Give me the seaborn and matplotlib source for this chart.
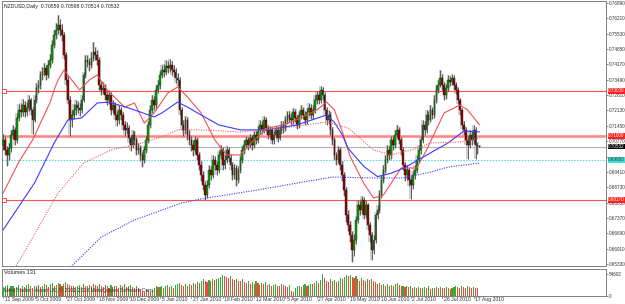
import numpy as np
import pandas as pd
import matplotlib
matplotlib.use("Agg")
import matplotlib.pyplot as plt
import matplotlib.transforms as mtransforms
from matplotlib import font_manager
import seaborn as sns

sns.set_style("white")
_names = {f.name for f in font_manager.fontManager.ttflist}
FONT = [f for f in ["Liberation Sans Narrow", "Liberation Sans", "DejaVu Sans"] if f in _names]
plt.rcParams['font.family'] = FONT
NARROW = "Liberation Sans Narrow" in _names
FS = 3.9 if NARROW else 3.3
FS_TXT = 4.3 if NARROW else 3.7

# ---------------- data ----------------
date_labels = ["11 Sep 2009", "5 Oct 2009", "27 Oct 2009", "18 Nov 2009", "10 Dec 2009",
               "5 Jan 2010", "27 Jan 2010", "18 Feb 2010", "12 Mar 2010", "5 Apr 2010",
               "27 Apr 2010", "19 May 2010", "10 Jun 2010", "2 Jul 2010", "26 Jul 2010",
               "17 Aug 2010"]
date_label_bars = [0, 16, 32, 48, 64, 80, 96, 112, 128, 144, 160, 176, 192, 208, 224, 240]

first_open = 0.7060
close = [0.7082, 0.7038, 0.7016, 0.7047, 0.7104, 0.7127, 0.7082, 0.7180, 0.7215, 0.7206, 0.7237, 0.7206, 0.7224, 0.7259, 0.7215, 0.7171,
         0.7259, 0.7312, 0.7326, 0.7370, 0.7383, 0.7401, 0.7370, 0.7414, 0.7437, 0.7503, 0.7547, 0.7569, 0.7592, 0.7569, 0.7547, 0.7459,
         0.7348, 0.7259, 0.7171, 0.7193, 0.7215, 0.7237, 0.7224, 0.7215, 0.7259, 0.7370, 0.7437, 0.7428, 0.7414, 0.7445, 0.7472, 0.7459,
         0.7437, 0.7326, 0.7304, 0.7312, 0.7281, 0.7259, 0.7281, 0.7215, 0.7237, 0.7193, 0.7171, 0.7215, 0.7193, 0.7149, 0.7127, 0.7135,
         0.7091, 0.7060, 0.7104, 0.7082, 0.7038, 0.7047, 0.7016, 0.6994, 0.7038, 0.7082, 0.7149, 0.7215, 0.7259, 0.7237, 0.7304, 0.7326,
         0.7370, 0.7392, 0.7383, 0.7410, 0.7401, 0.7414, 0.7392, 0.7383, 0.7357, 0.7348, 0.7215, 0.7149, 0.7127, 0.7171, 0.7104, 0.7082,
         0.7060, 0.7038, 0.7082, 0.7016, 0.6971, 0.6927, 0.6883, 0.6839, 0.6883, 0.6949, 0.6927, 0.6994, 0.6971, 0.6949, 0.7016, 0.7038,
         0.6971, 0.6994, 0.7038, 0.7002, 0.6971, 0.6927, 0.6958, 0.6905, 0.6949, 0.6994, 0.7038, 0.7060, 0.7082, 0.7060, 0.7091, 0.7060,
         0.7104, 0.7082, 0.7127, 0.7149, 0.7127, 0.7171, 0.7135, 0.7104, 0.7127, 0.7082, 0.7104, 0.7127, 0.7091, 0.7127, 0.7149, 0.7135,
         0.7171, 0.7193, 0.7180, 0.7171, 0.7206, 0.7180, 0.7149, 0.7193, 0.7215, 0.7193, 0.7171, 0.7206, 0.7224, 0.7193, 0.7215, 0.7259,
         0.7281, 0.7259, 0.7304, 0.7281, 0.7215, 0.7171, 0.7193, 0.7127, 0.7082, 0.7016, 0.6994, 0.7038, 0.6971, 0.6927, 0.6861, 0.6750,
         0.6706, 0.6661, 0.6595, 0.6639, 0.6728, 0.6794, 0.6772, 0.6816, 0.6750, 0.6794, 0.6706, 0.6661, 0.6595, 0.6639, 0.6750, 0.6772,
         0.6839, 0.6905, 0.6949, 0.6994, 0.7038, 0.7016, 0.7082, 0.7060, 0.7104, 0.7127, 0.7082, 0.7038, 0.6971, 0.6927, 0.6949, 0.6905,
         0.6883, 0.6927, 0.6949, 0.6994, 0.7038, 0.7082, 0.7149, 0.7127, 0.7193, 0.7171, 0.7215, 0.7193, 0.7259, 0.7304, 0.7326, 0.7357,
         0.7326, 0.7281, 0.7312, 0.7348, 0.7339, 0.7357, 0.7326, 0.7304, 0.7259, 0.7215, 0.7149, 0.7127, 0.7082, 0.7060, 0.7104, 0.7082,
         0.7127, 0.7060, 0.70559, 0.70532]

high = [0.7110, 0.7098, 0.7055, 0.7070, 0.7125, 0.7150, 0.7140, 0.7200, 0.7240, 0.7245, 0.7262, 0.7255, 0.7250, 0.7280, 0.7270, 0.7230,
        0.7280, 0.7335, 0.7350, 0.7390, 0.7405, 0.7425, 0.7415, 0.7435, 0.7465, 0.7525, 0.7570, 0.7600, 0.7636, 0.7620, 0.7595, 0.7560,
        0.7470, 0.7365, 0.7275, 0.7215, 0.7240, 0.7260, 0.7255, 0.7245, 0.7280, 0.7385, 0.7460, 0.7460, 0.7445, 0.7470, 0.7516, 0.7495,
        0.7480, 0.7450, 0.7345, 0.7340, 0.7330, 0.7300, 0.7305, 0.7295, 0.7260, 0.7250, 0.7210, 0.7235, 0.7230, 0.7205, 0.7165, 0.7160,
        0.7150, 0.7105, 0.7125, 0.7120, 0.7095, 0.7070, 0.7060, 0.7030, 0.7055, 0.7100, 0.7165, 0.7235, 0.7280, 0.7275, 0.7325, 0.7350,
        0.7390, 0.7415, 0.7420, 0.7435, 0.7430, 0.7440, 0.7430, 0.7415, 0.7400, 0.7380, 0.7360, 0.7230, 0.7170, 0.7190, 0.7185, 0.7125,
        0.7100, 0.7080, 0.7100, 0.7095, 0.7030, 0.6990, 0.6945, 0.6900, 0.6905, 0.6970, 0.6965, 0.7015, 0.7010, 0.6990, 0.7035, 0.7060,
        0.7050, 0.7015, 0.7055, 0.7050, 0.7020, 0.6985, 0.6975, 0.6970, 0.6965, 0.7010, 0.7055, 0.7080, 0.7100, 0.7095, 0.7110, 0.7105,
        0.7120, 0.7120, 0.7145, 0.7170, 0.7165, 0.7190, 0.7185, 0.7150, 0.7145, 0.7140, 0.7120, 0.7145, 0.7140, 0.7145, 0.7165, 0.7165,
        0.7190, 0.7210, 0.7210, 0.7200, 0.7225, 0.7220, 0.7195, 0.7210, 0.7235, 0.7230, 0.7210, 0.7225, 0.7245, 0.7240, 0.7235, 0.7280,
        0.7300, 0.7300, 0.7320, 0.7315, 0.7295, 0.7230, 0.7215, 0.7205, 0.7140, 0.7095, 0.7030, 0.7055, 0.7050, 0.6990, 0.6940, 0.6875,
        0.6770, 0.6725, 0.6680, 0.6665, 0.6745, 0.6815, 0.6810, 0.6835, 0.6830, 0.6815, 0.6805, 0.6720, 0.6675, 0.6660, 0.6765, 0.6795,
        0.6860, 0.6925, 0.6970, 0.7015, 0.7060, 0.7055, 0.7100, 0.7100, 0.7125, 0.7150, 0.7140, 0.7095, 0.7050, 0.6985, 0.6970, 0.6960,
        0.6920, 0.6945, 0.6970, 0.7015, 0.7060, 0.7100, 0.7170, 0.7165, 0.7215, 0.7210, 0.7235, 0.7230, 0.7280, 0.7325, 0.7350, 0.7392,
        0.7375, 0.7340, 0.7330, 0.7370, 0.7365, 0.7375, 0.7370, 0.7340, 0.7315, 0.7270, 0.7225, 0.7165, 0.7140, 0.7100, 0.7125, 0.7120,
        0.7150, 0.7140, 0.7075, 0.70598]

low = [0.7040, 0.7015, 0.6965, 0.6995, 0.7030, 0.7085, 0.7060, 0.7070, 0.7165, 0.7185, 0.7190, 0.7185, 0.7190, 0.7210, 0.7195, 0.7110,
       0.7160, 0.7245, 0.7290, 0.7310, 0.7350, 0.7365, 0.7350, 0.7355, 0.7400, 0.7425, 0.7490, 0.7530, 0.7550, 0.7545, 0.7520, 0.7440,
       0.7325, 0.7240, 0.7100, 0.7140, 0.7175, 0.7195, 0.7200, 0.7190, 0.7200, 0.7250, 0.7355, 0.7405, 0.7390, 0.7400, 0.7430, 0.7435,
       0.7415, 0.7305, 0.7280, 0.7285, 0.7260, 0.7235, 0.7240, 0.7195, 0.7200, 0.7170, 0.7145, 0.7155, 0.7170, 0.7125, 0.7100, 0.7110,
       0.7070, 0.7035, 0.7045, 0.7060, 0.7015, 0.7020, 0.6990, 0.6963, 0.6980, 0.7025, 0.7070, 0.7135, 0.7200, 0.7215, 0.7225, 0.7290,
       0.7310, 0.7355, 0.7360, 0.7370, 0.7380, 0.7385, 0.7370, 0.7360, 0.7335, 0.7320, 0.7195, 0.7125, 0.7100, 0.7110, 0.7080, 0.7060,
       0.7035, 0.7010, 0.7020, 0.6995, 0.6950, 0.6900, 0.6860, 0.6816, 0.6825, 0.6870, 0.6905, 0.6915, 0.6950, 0.6925, 0.6935, 0.7000,
       0.6950, 0.6955, 0.6980, 0.6985, 0.6950, 0.6905, 0.6910, 0.6880, 0.6890, 0.6935, 0.6980, 0.7020, 0.7045, 0.7040, 0.7045, 0.7040,
       0.7045, 0.7065, 0.7070, 0.7110, 0.7110, 0.7115, 0.7120, 0.7085, 0.7090, 0.7065, 0.7065, 0.7090, 0.7075, 0.7080, 0.7110, 0.7115,
       0.7120, 0.7155, 0.7160, 0.7150, 0.7155, 0.7160, 0.7130, 0.7135, 0.7175, 0.7175, 0.7150, 0.7155, 0.7190, 0.7175, 0.7175, 0.7200,
       0.7240, 0.7240, 0.7245, 0.7260, 0.7195, 0.7150, 0.7155, 0.7105, 0.7060, 0.6995, 0.6970, 0.6980, 0.6950, 0.6900, 0.6835, 0.6720,
       0.6680, 0.6630, 0.6542, 0.6570, 0.6620, 0.6715, 0.6750, 0.6755, 0.6730, 0.6735, 0.6685, 0.6630, 0.6551, 0.6575, 0.6625, 0.6730,
       0.6760, 0.6825, 0.6890, 0.6935, 0.6980, 0.6995, 0.7000, 0.7040, 0.7045, 0.7090, 0.7065, 0.7015, 0.6950, 0.6900, 0.6905, 0.6880,
       0.6820, 0.6865, 0.6910, 0.6935, 0.6980, 0.7020, 0.7070, 0.7105, 0.7115, 0.7150, 0.7160, 0.7175, 0.7180, 0.7245, 0.7290, 0.7315,
       0.7305, 0.7260, 0.7265, 0.7300, 0.7320, 0.7325, 0.7305, 0.7285, 0.7240, 0.7195, 0.7130, 0.7105, 0.7060, 0.7000, 0.7045, 0.7060,
       0.7065, 0.7000, 0.7020, 0.70514]

volume = [22000, 25000, 27000, 19000, 24000, 26000, 21000, 23000, 28000, 20000, 25000, 22000, 27000, 30000, 24000, 21000,
          26000, 24000, 28000, 22000, 25000, 30000, 27000, 23000, 29000, 32000, 26000, 28000, 33000, 30000, 25000, 31000,
          34000, 30000, 28000, 24000, 26000, 22000, 25000, 27000, 23000, 29000, 26000, 24000, 28000, 25000, 30000, 27000,
          26000, 31000, 24000, 22000, 27000, 25000, 20000, 28000, 23000, 26000, 24000, 21000, 27000, 25000, 29000, 23000,
          25000, 28000, 22000, 20000, 24000, 19000, 17000, 12000, 10000, 18000, 15000, 9000, 16000, 21000, 24000, 22000,
          23000, 26000, 20000, 24000, 27000, 22000, 25000, 21000, 28000, 30000, 33000, 27000, 25000, 29000, 26000, 31000,
          28000, 33000, 30000, 35000, 32000, 38000, 42000, 36000, 34000, 40000, 37000, 43000, 39000, 41000, 45000, 48000,
          52000, 50000, 47000, 44000, 49000, 42000, 40000, 43000, 38000, 36000, 41000, 35000, 33000, 37000, 31000, 34000,
          30000, 36000, 32000, 28000, 33000, 29000, 35000, 27000, 31000, 25000, 28000, 30000, 26000, 24000, 29000, 27000,
          25000, 22000, 28000, 12000, 9000, 20000, 24000, 26000, 23000, 27000, 30000, 25000, 28000, 31000, 29000, 33000,
          36000, 32000, 40000, 54602, 44000, 38000, 35000, 42000, 37000, 40000, 34000, 38000, 45000, 41000, 48000, 52000,
          50000, 53000, 47000, 44000, 49000, 42000, 38000, 45000, 40000, 36000, 41000, 39000, 43000, 37000, 34000, 30000,
          32000, 28000, 31000, 26000, 29000, 24000, 27000, 25000, 30000, 33000, 27000, 24000, 26000, 22000, 25000, 23000,
          24000, 21000, 22000, 20000, 23000, 19000, 21000, 22000, 20000, 24000, 18000, 21000, 19000, 22000, 20000, 23000,
          21000, 19000, 22000, 20000, 18000, 21000, 23000, 24000, 22000, 20000, 25000, 23000, 21000, 24000, 22000, 20000,
          23000, 21000, 19000, 131]

# moving averages (bar index, value)
ma_fast_bar = [0, 8, 15, 24, 26, 28, 31, 35, 39, 44, 48, 53, 62, 67, 72, 77, 84, 89, 94, 101, 108, 114, 121, 128,
               135, 143, 152, 160, 165, 169, 173, 177, 184, 189, 194, 203, 211, 216, 225, 233, 237, 243]
ma_fast_val = [0.6847, 0.6985, 0.7082, 0.7250, 0.7304, 0.7348, 0.7392, 0.7348, 0.7304, 0.7348, 0.7370, 0.7304,
               0.7228, 0.7246, 0.7157, 0.7202, 0.7290, 0.7317, 0.7273, 0.7202, 0.7082, 0.7016, 0.7016, 0.7082,
               0.7135, 0.7149, 0.7180, 0.7215, 0.7250, 0.7215, 0.7120, 0.7010, 0.6890, 0.6825, 0.6838, 0.6958,
               0.6958, 0.7038, 0.7202, 0.7237, 0.7215, 0.7149]
ma_mid_bar = [0, 16, 26, 33, 40, 48, 54, 64, 70, 77, 81, 89, 94, 101, 110, 121, 135, 150, 165, 169, 173, 176, 184,
              191, 198, 205, 212, 220, 227, 235, 243]
ma_mid_val = [0.6684, 0.6892, 0.7069, 0.7171, 0.7180, 0.7246, 0.7250, 0.7224, 0.7206, 0.7184, 0.7202, 0.7250,
              0.7228, 0.7193, 0.7149, 0.7127, 0.7127, 0.7149, 0.7193, 0.7160, 0.7105, 0.7045, 0.6965, 0.6920,
              0.6935, 0.6960, 0.6995, 0.7035, 0.7069, 0.7122, 0.7118]
ma_slow_bar = [6, 10, 28, 41, 55, 67, 81, 89, 101, 121, 143, 165, 176, 189, 198, 212, 218, 233, 243]
ma_slow_val = [0.6515, 0.6573, 0.6847, 0.6980, 0.7038, 0.7060, 0.7096, 0.7127, 0.7127, 0.7118, 0.7135, 0.7162,
               0.7135, 0.7038, 0.7016, 0.7047, 0.7069, 0.7073, 0.7091]
ma_long_bar = [30, 35, 50, 67, 84, 91, 101, 130, 153, 168, 189, 204, 218, 227, 243]
ma_long_val = [0.6500, 0.6524, 0.6652, 0.6728, 0.6781, 0.6803, 0.6821, 0.6861, 0.6896, 0.6918, 0.6914, 0.6914,
               0.6940, 0.6962, 0.6980]

level_high = 0.73000
level_mid = 0.71000
level_low = 0.68170
level_cyan = 0.69950
last_price = 0.70532

price_ticks = [0.76890, 0.76210, 0.75530, 0.74850, 0.74170, 0.73490, 0.72810, 0.72130, 0.71450,
               0.70770, 0.70090, 0.69410, 0.68730, 0.68050, 0.67370, 0.66690, 0.66010, 0.65330]
hidden_tick_labels = [0.70090]
title_text = "NZDUSD,Daily  0.70559 0.70598 0.70514 0.70532"
volume_label = "Volumes 131"
volume_max_label = "54602"
copyright_text = "MetaTrader - Alpari UK, \u00a9 2001-2010 MetaQuotes Software Corp."

# ---------------- figure ----------------
W, H = 625, 304
fig = plt.figure(figsize=(W / 100, H / 100), dpi=100)
fig.patch.set_facecolor("white")

px_bar = 1.96
x0_px, x1_px = 2, 606
ax = fig.add_axes([x0_px / W, 1 - 266 / H, (x1_px - x0_px) / W, 265 / H])
vax = fig.add_axes([x0_px / W, 1 - 296 / H, (x1_px - x0_px) / W, 27 / H])

xlim = (-0.6, (x1_px - x0_px) / px_bar - 0.6)
ax.set_xlim(*xlim)
vax.set_xlim(*xlim)
ax.set_ylim(0.65239, 0.76979)
vax.set_ylim(0, 67000)

n = len(close)
idx = np.arange(n)
opens = np.array([first_open] + close[:-1])
closes = np.array(close)
highs = np.array(high)
lows = np.array(low)

df = pd.DataFrame({"bar": idx, "open": opens, "close": closes, "high": highs, "low": lows, "volume": volume})
up = df["close"] >= df["open"]

# grey halo behind candles
ax.bar(df["bar"], df["high"] - df["low"], bottom=df["low"], width=1.5, color="#cfcfcf", linewidth=0, zorder=1)
# wicks
ax.vlines(df["bar"], df["low"], df["high"], color="#303030", linewidth=0.5, zorder=3)
# bodies
body_bottom = np.minimum(df["open"], df["close"])
body_h = np.maximum(np.abs(df["close"] - df["open"]), 0.00012)
ax.bar(df["bar"][up], body_h[up], bottom=body_bottom[up], width=0.85, color="#00a800",
       edgecolor="#202020", linewidth=0.3, zorder=4)
ax.bar(df["bar"][~up], body_h[~up], bottom=body_bottom[~up], width=0.85, color="#9a0000",
       edgecolor="#202020", linewidth=0.3, zorder=4)

# moving averages
sns.lineplot(x=ma_fast_bar, y=ma_fast_val, ax=ax, color="#f05050", linewidth=0.8, zorder=5)
sns.lineplot(x=ma_mid_bar, y=ma_mid_val, ax=ax, color="#3a3aff", linewidth=0.8, zorder=5)
sns.lineplot(x=ma_slow_bar, y=ma_slow_val, ax=ax, color="#f06060", linewidth=0.8, linestyle=(0, (1, 1.2)), zorder=5)
sns.lineplot(x=ma_long_bar, y=ma_long_val, ax=ax, color="#3a3af0", linewidth=0.8, linestyle=(0, (1, 1.2)), zorder=5)

# horizontal levels
ax.axhline(level_high, color="#ff5050", linewidth=0.8, zorder=2)
ax.axhline(level_mid, color="#ffa0a0", linewidth=2.2, zorder=2)
ax.axhline(level_mid, color="#ff6060", linewidth=0.6, linestyle=(0, (1, 1)), zorder=2)
ax.axhline(level_low, color="#ff5050", linewidth=0.8, zorder=2)
ax.axhline(last_price, color="#b0b0b0", linewidth=0.8, zorder=2)
ax.axhline(level_cyan, color="#40d8e0", linewidth=0.7, linestyle=(0, (1.5, 1.5)), zorder=2)
ytrans = ax.get_yaxis_transform()
for lv in (level_high, level_low):
    ax.plot([0.004], [lv], marker="s", markersize=2.2, markerfacecolor="white",
            markeredgecolor="#ff3030", markeredgewidth=0.6, transform=ytrans, zorder=6, clip_on=False)

# axes styling
for a in (ax, vax):
    for s in a.spines.values():
        s.set_color("#808080")
        s.set_linewidth(0.7)
    a.set_xticks([])
    a.set_xlabel("")
    a.set_ylabel("")

ax.yaxis.tick_right()
ax.set_yticks(price_ticks)
ax.set_yticklabels(["" if v in hidden_tick_labels else f"{v:.5f}" for v in price_ticks])
ax.tick_params(axis="y", right=True, length=1.5, width=0.5, color="#606060", pad=0.6,
               labelsize=FS, labelcolor="#303030")

vax.yaxis.tick_right()
vax.set_yticks([0, 54602])
vax.set_yticklabels(["0", volume_max_label])
vax.tick_params(axis="y", right=True, length=1.5, width=0.5, color="#606060", pad=0.6,
                labelsize=FS, labelcolor="#303030")

# right-side highlighted labels
def tag(a, y, text, fc, tc):
    a.text(1.0035, y, text, transform=a.get_yaxis_transform(), fontsize=FS, color=tc,
           va="center", ha="left", zorder=10, clip_on=False,
           bbox=dict(boxstyle="square,pad=0.08", facecolor=fc, edgecolor="none"))

tag(ax, level_high, f"{level_high:.5f}", "#ff2020", "white")
tag(ax, level_mid, f"{level_mid:.5f}", "#ff2020", "white")
tag(ax, last_price, f"{last_price:.5f}", "#000000", "white")
tag(ax, level_cyan, f"{level_cyan:.5f}", "#40e0d8", "#303030")
tag(ax, level_low, f"{level_low:.5f}", "#ff2020", "white")

# title
ax.text(0.003, 0.99, title_text, transform=ax.transAxes, fontsize=FS_TXT, color="#202020",
        ha="left", va="top", zorder=10)

# volumes
vol = np.array(volume)
vol_up = np.r_[True, vol[1:] >= vol[:-1]]
vax.bar(idx[vol_up], vol[vol_up], width=0.55, color="#30b030", linewidth=0, zorder=3)
vax.bar(idx[~vol_up], vol[~vol_up], width=0.55, color="#ff4040", linewidth=0, zorder=3)
vax.text(0.003, 0.95, volume_label, transform=vax.transAxes, fontsize=FS_TXT + 0.3, color="#202020",
         ha="left", va="top", zorder=10)
vax.text(0.003, 0.10, copyright_text, transform=vax.transAxes, fontsize=FS_TXT, color="#303030",
         ha="left", va="bottom", zorder=10)

# date labels under the volume panel
xtrans = mtransforms.blended_transform_factory(vax.transData, vax.transAxes)
for b, lab in zip(date_label_bars, date_labels):
    vax.plot([b, b], [0, -0.08], color="#606060", linewidth=0.5, transform=xtrans, clip_on=False)
    vax.text(b + 0.8, -0.05, lab, transform=xtrans, fontsize=FS_TXT, color="#303030",
             ha="left", va="top", clip_on=False)

fig.savefig("out.png", dpi=100, facecolor="white")
